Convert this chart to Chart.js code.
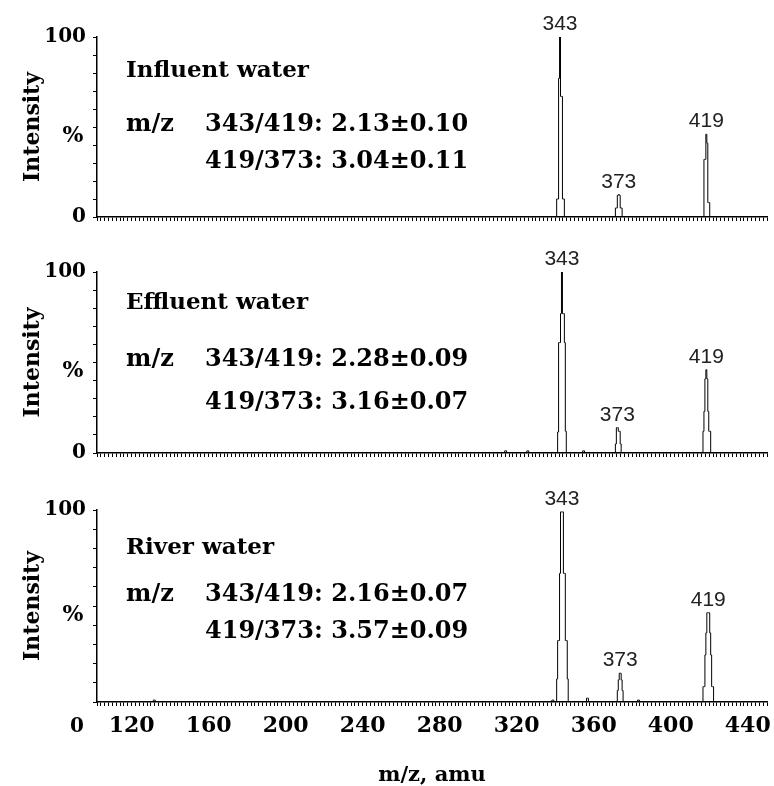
<!DOCTYPE html>
<html>
<head>
<meta charset="utf-8">
<script src="https://cdn.jsdelivr.net/npm/chart.js@4.4.1/dist/chart.umd.min.js"></script>
<style>
  body { margin: 0; background: #fff; }
  #wrap { position: relative; width: 774px; height: 786px; }
  canvas { position: absolute; left: 0; }
</style>
</head>
<body>
<div id="wrap">
  <canvas id="c0" width="774" height="236" style="top:0px"></canvas>
  <canvas id="c1" width="774" height="236" style="top:236px"></canvas>
  <canvas id="c2" width="774" height="314" style="top:472px"></canvas>
</div>
<script>
const mzMin = 102, mzMax = 450;
const xTickLabels = [120, 160, 200, 240, 280, 320, 360, 400, 440];
const sampleNames = ['Influent water', 'Effluent water', 'River water'];
const ratio343to419 = ['2.13±0.10', '2.28±0.09', '2.16±0.07'];
const ratio419to373 = ['3.04±0.11', '3.16±0.07', '3.57±0.09'];
const peakLabels = [343, 373, 419];

// spectra: m/z and relative intensity (%)
const influentMz  = [102, 340.5, 341, 341.5, 342, 342.5, 343, 343.5, 344, 344.5, 345,
                     371, 371.5, 372, 372.5, 373, 373.5, 374, 374.5, 375,
                     417, 417.5, 418, 418.5, 419, 419.5, 420, 420.5, 450];
const influentPct = [0, 0, 10, 10, 77, 100, 67, 67, 10, 10, 0,
                     0, 5, 5, 12, 12.5, 12, 5, 5, 0,
                     0, 32, 32, 46, 41, 8, 8, 0, 0];

const effluentMz  = [102, 313.5, 314, 314.5, 315, 325, 325.5, 326, 326.5,
                     341, 341.5, 342, 342.5, 343, 343.5, 344, 344.5, 345, 345.5, 346,
                     354, 354.5, 355, 355.5,
                     371, 371.5, 372, 372.5, 373, 373.5, 374, 374.5,
                     416.5, 417, 417.5, 418, 418.5, 419, 419.5, 420, 420.5, 421, 450];
const effluentPct = [0, 0, 1.2, 1.2, 0, 0, 1.2, 1.2, 0,
                     0, 11.6, 61, 61, 77, 100, 77, 77, 61, 12, 0,
                     0, 1.2, 1.2, 0,
                     0, 5, 14, 14, 12, 12, 5, 0,
                     0, 12, 23, 41, 46, 41, 23, 12, 12, 0, 0];

const riverMz  = [102, 131, 131.5, 132, 132.5, 338, 338.5, 339, 339.5,
                  340.5, 341, 341.5, 342, 342.5, 343, 343.5, 344, 344.5, 345, 345.5, 346, 346.5, 347,
                  356, 356.5, 357, 357.5,
                  372, 372.5, 373, 373.5, 374, 374.5, 375, 375.5,
                  382.5, 383, 383.5, 384,
                  416.5, 417, 417.5, 418, 418.5, 419, 419.5, 420, 420.5, 421, 421.5, 422, 422.5, 450];
const riverPct = [0, 0, 1, 1, 0, 0, 1, 1, 0,
                  0, 12, 32, 32, 67, 99, 99, 99, 67, 67, 32, 32, 12, 0,
                  0, 2, 2, 0,
                  0, 6, 11.5, 15, 15, 11.5, 6, 0,
                  0, 1, 1, 0,
                  0, 8, 8, 24.5, 36, 46.5, 46.5, 46.5, 36, 24.5, 8, 8, 0, 0];

const spectraMz = [influentMz, effluentMz, riverMz];
const spectraPct = [influentPct, effluentPct, riverPct];

// layout of the three panels
const padTop = [37, 36, 38];
const xAxisHeight = [10, 10, 84];
const nameDy = [34, 31, 38];
const line1Dy = [88, 88, 85];
const line2Dy = [125, 131, 122];
const serif = 'DejaVu Serif';

const panelText = {
  id: 'panelText',
  afterDatasetsDraw(chart, args, opts) {
    const { ctx, chartArea, scales } = chart;
    const i = opts.index;
    const xs = scales.x, ys = scales.y;
    ctx.save();

    // peak labels above each peak
    ctx.font = '21px "Liberation Sans"';
    ctx.textAlign = 'center';
    ctx.textBaseline = 'bottom';
    ctx.fillStyle = '#222';
    const mz = spectraMz[i], pct = spectraPct[i];
    peakLabels.forEach(m => {
      let best = -1, pos = [];
      mz.forEach((v, k) => {
        if (Math.abs(v - m) > 4) return;
        if (pct[k] > best) { best = pct[k]; pos = [v]; }
        else if (pct[k] === best) pos.push(v);
      });
      const px = xs.getPixelForValue(pos.reduce((a, b) => a + b, 0) / pos.length);
      ctx.fillText(String(m), px, ys.getPixelForValue(best) - 2);
    });

    // sample name and ratios
    ctx.fillStyle = '#000';
    ctx.textAlign = 'left';
    ctx.textBaseline = 'middle';
    const left = chartArea.left, top = chartArea.top;
    ctx.font = 'bold 23px "' + serif + '"';
    ctx.fillText(sampleNames[i], left + 29, top + nameDy[i]);
    ctx.font = 'bold 24px "' + serif + '"';
    ctx.fillText('m/z', left + 29, top + line1Dy[i]);
    ctx.fillText('343/419: ' + ratio343to419[i], left + 108, top + line1Dy[i]);
    ctx.fillText('419/373: ' + ratio419to373[i], left + 108, top + line2Dy[i]);

    // "%" part of the y axis label
    ctx.font = 'bold 22px "' + serif + '"';
    ctx.textAlign = 'center';
    ctx.fillText('%', left - 24, ys.getPixelForValue(45));

    // zero of the bottom panel sits on the m/z label row
    if (i === 2) {
      ctx.font = 'bold 20px "' + serif + '"';
      ctx.textAlign = 'right';
      ctx.fillText('0', left - 13, xs.top + 4 + 7 + 14);
    }
    ctx.restore();
  }
};

function makePanel(i) {
  const last = i === 2;
  const points = spectraMz[i].map((m, k) => ({ x: m, y: spectraPct[i][k] }));
  new Chart(document.getElementById('c' + i), {
    type: 'line',
    data: {
      datasets: [{
        data: points,
        borderColor: '#000',
        borderWidth: 1,
        pointRadius: 0,
        stepped: 'middle',
        fill: false
      }]
    },
    options: {
      responsive: false,
      animation: false,
      layout: { padding: { top: padTop[i], right: 6, bottom: 0, left: 0 } },
      plugins: {
        legend: { display: false },
        tooltip: { enabled: false },
        panelText: { index: i }
      },
      scales: {
        x: {
          type: 'linear',
          min: mzMin,
          max: mzMax,
          afterFit: s => { s.height = xAxisHeight[i]; },
          border: { color: '#000', width: 1.5 },
          grid: { drawOnChartArea: false, tickLength: 4, tickColor: '#000' },
          ticks: {
            stepSize: 2,
            autoSkip: false,
            maxRotation: 0,
            padding: 7,
            color: '#000',
            font: { family: serif, weight: 'bold', size: 22 },
            callback: v => (last && xTickLabels.includes(v)) ? String(v) : ''
          },
          title: {
            display: last,
            text: 'm/z, amu',
            color: '#000',
            font: { family: serif, weight: 'bold', size: 21 },
            padding: { top: 0, bottom: -2 }
          }
        },
        y: {
          min: 0,
          max: 100,
          afterFit: s => { s.width = 97; },
          border: { color: '#000', width: 1.5 },
          grid: { drawOnChartArea: false, tickLength: 4, tickColor: '#000' },
          ticks: {
            stepSize: 10,
            autoSkip: false,
            padding: 7,
            color: '#000',
            font: { family: serif, weight: 'bold', size: 20 },
            callback: v => v === 100 ? '100' : (v === 0 && !last ? '0' : '')
          },
          title: {
            display: true,
            text: 'Intensity',
            color: '#000',
            font: { family: serif, weight: 'bold', size: 22 },
            padding: { top: 20, bottom: 0 }
          }
        }
      }
    },
    plugins: [panelText]
  });
}

[0, 1, 2].forEach(makePanel);
</script>
</body>
</html>
